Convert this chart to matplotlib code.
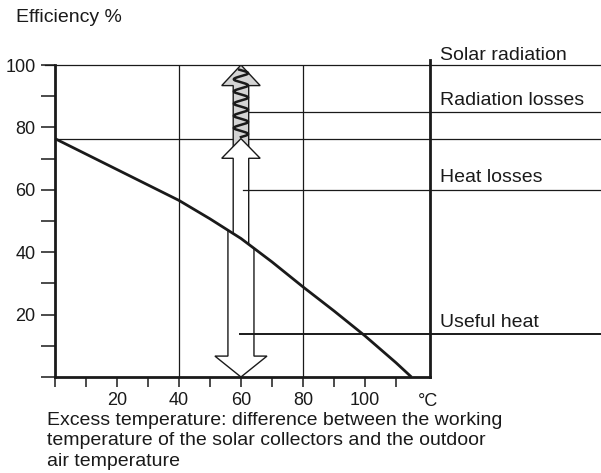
import numpy as np
import matplotlib.pyplot as plt
from matplotlib.patches import Polygon

plt.rcParams['font.family'] = ['Liberation Sans', 'DejaVu Sans']

# Efficiency curve of a flat-plate collector vs. excess temperature
temp = [0, 20, 40, 50, 60, 70, 80, 90, 100, 110, 115]
efficiency = [76.4, 66.5, 56.6, 50.7, 44.4, 36.9, 28.9, 21.2, 13.2, 4.6, 0.0]

# Energy flow levels (% of incoming solar radiation)
solar_level = 100
optical_level = 76.4
radiation_label_level = 85
heat_label_level = 60
useful_label_level = 13.8
arrow_x = 60

flow_labels = ['Solar radiation', 'Radiation losses', 'Heat losses', 'Useful heat']
flow_label_y = [103.2, 88.7, 64.0, 17.6]

x_ticks = [20, 40, 60, 80, 100]
y_ticks = [20, 40, 60, 80, 100]

ink = '#1a1a1a'

fig = plt.figure(figsize=(6.01, 4.73), dpi=100)
ax = fig.add_axes([55 / 601, (473 - 377) / 473, (430 - 55) / 601, (377 - 65) / 473])
ax.set_xlim(0, 121)
ax.set_ylim(0, 100)

for side in ['top', 'right']:
    ax.spines[side].set_visible(False)
for side in ['left', 'bottom']:
    ax.spines[side].set_linewidth(2.0)
    ax.spines[side].set_color(ink)

ax.set_xticks(x_ticks)
ax.set_xticklabels([str(t) for t in x_ticks])
ax.set_yticks(y_ticks)
ax.set_yticklabels([str(t) for t in y_ticks])
# minor ticks, including the ones at zero
ax.set_xticks([0, 10, 30, 50, 70, 90, 110], minor=True)
ax.set_yticks([0, 10, 30, 50, 70, 90], minor=True)
ax.tick_params(which='both', direction='out', length=7, width=1.1, color=ink,
               labelsize=13, labelcolor=ink)
ax.tick_params(axis='y', which='both', length=10, pad=4)
ax.tick_params(axis='x', pad=4)

# right edge of the figure in data units, for lines running off to the labels
x_edge = ax.transData.inverted().transform(fig.transFigure.transform((1, 0)))[0]
x_left = ax.transData.inverted().transform((45, 0))[0]

# grid lines
for gx in [40, 80]:
    ax.plot([gx, gx], [0, solar_level], color=ink, lw=0.9, zorder=1)
ax.plot([121, 121], [0, 101.6], color=ink, lw=2.0, clip_on=False, zorder=3)
ax.plot([x_left, x_edge], [solar_level] * 2, color=ink, lw=0.9, clip_on=False, zorder=1)
ax.plot([0, x_edge], [optical_level] * 2, color=ink, lw=0.9, clip_on=False, zorder=1)
ax.plot([arrow_x + 2.5, x_edge], [radiation_label_level] * 2, color=ink, lw=0.9,
        clip_on=False, zorder=1)
ax.plot([arrow_x + 0.8, x_edge], [heat_label_level] * 2, color=ink, lw=0.9,
        clip_on=False, zorder=5)
ax.plot([arrow_x - 0.2, x_edge], [useful_label_level] * 2, color=ink, lw=1.4,
        clip_on=False, zorder=5)

# efficiency curve
ax.plot(temp, efficiency, color=ink, lw=2.0, zorder=6, solid_capstyle='butt',
        solid_joinstyle='round')


def curve_at(x):
    return np.interp(x, temp, efficiency)


# radiation losses: grey arrow from the optical level up to the solar level
sw, hw = 2.5, 6.2
rad_head = 93.4
rad = Polygon([(arrow_x - sw, 72), (arrow_x - sw, rad_head), (arrow_x - hw, rad_head),
               (arrow_x, solar_level), (arrow_x + hw, rad_head), (arrow_x + sw, rad_head),
               (arrow_x + sw, 72)],
              closed=True, facecolor='#d4d4d4', edgecolor=ink, lw=1.0, zorder=3)
ax.add_patch(rad)

# wavy line inside the radiation arrow
wy = np.linspace(optical_level + 0.5, solar_level - 1.5, 200)
wx = arrow_x + 2.3 * np.sin(2 * np.pi * (wy - wy[0]) / 3.9)
ax.plot(wx, wy, color=ink, lw=1.8, zorder=4)

# heat losses: narrow hollow arrow from the curve up to the optical level
heat_head = 70.1
heat = Polygon([(arrow_x - sw, curve_at(arrow_x - sw)), (arrow_x - sw, heat_head),
                (arrow_x - hw, heat_head), (arrow_x, optical_level),
                (arrow_x + hw, heat_head), (arrow_x + sw, heat_head),
                (arrow_x + sw, curve_at(arrow_x + sw))],
               closed=True, facecolor='white', edgecolor=ink, lw=1.0, zorder=4)
ax.add_patch(heat)

# useful heat: wide hollow arrow from the curve down to zero
uw, uhw, uhl = 4.2, 8.4, 6.7
useful = Polygon([(arrow_x - uw, curve_at(arrow_x - uw)), (arrow_x - uw, uhl),
                  (arrow_x - uhw, uhl), (arrow_x, 0), (arrow_x + uhw, uhl),
                  (arrow_x + uw, uhl), (arrow_x + uw, curve_at(arrow_x + uw))],
                 closed=False, facecolor='white', edgecolor=ink, lw=1.0, zorder=4)
ax.add_patch(useful)

# flow labels to the right of the plot
for lab, ly in zip(flow_labels, flow_label_y):
    ax.text(124.2, ly, lab, fontsize=14, color=ink, ha='left', va='center', clip_on=False)

ax.text(120.3, -8.0, '°C', fontsize=13, color=ink, ha='center', va='center', clip_on=False)

fig.text(16 / 601, 1 - 17 / 473, 'Efficiency %', fontsize=14, color=ink, ha='left', va='center')
fig.text(47 / 601, 1 - 412 / 473,
         'Excess temperature: difference between the working\n'
         'temperature of the solar collectors and the outdoor\n'
         'air temperature',
         fontsize=14, color=ink, ha='left', va='top', linespacing=1.25)

fig.savefig('out.png', dpi=100)
